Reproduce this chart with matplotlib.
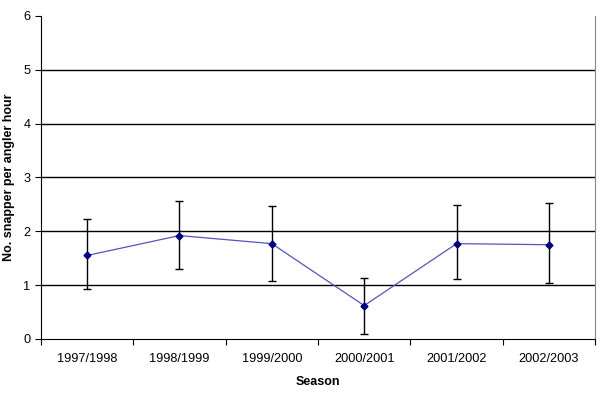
import matplotlib.pyplot as plt
import numpy as np

plt.rcParams['font.family'] = ['Liberation Sans', 'DejaVu Sans']

seasons = ["1997/1998", "1998/1999", "1999/2000", "2000/2001", "2001/2002", "2002/2003"]
catch_rate = [1.55, 1.92, 1.77, 0.62, 1.77, 1.75]
upper = [2.22, 2.57, 2.47, 1.13, 2.48, 2.52]
lower = [0.93, 1.30, 1.08, 0.10, 1.11, 1.04]

fig = plt.figure(figsize=(6, 3.96), dpi=100)
ax = fig.add_axes([0.068, 0.144, 0.924, 0.816])

x = np.arange(len(seasons)) + 0.5
rate = np.array(catch_rate)
yerr = [rate - np.array(lower), np.array(upper) - rate]

ax.errorbar(x, rate, yerr=yerr, fmt='none', ecolor='black', elinewidth=1,
            capsize=3, capthick=1, zorder=3)
ax.plot(x, rate, color='#5555bb', lw=0.9, marker='D', ms=3.5,
        mfc='#000080', mec='#000080', zorder=4)

# gridlines
for yv in range(1, 6):
    ax.axhline(yv, color='black', lw=1, zorder=1)

ax.set_xlim(0, len(seasons))
ax.set_ylim(0, 6)
ax.set_yticks(range(0, 7))
ax.set_xticks(range(0, len(seasons) + 1))
ax.set_xticklabels([])
ax.set_xticks(x, minor=True)
ax.set_xticklabels(seasons, minor=True)
ax.tick_params(axis='x', which='minor', length=0, pad=10, labelsize=9.2)
ax.tick_params(axis='x', which='major', length=4, direction='out')
ax.tick_params(axis='y', length=4, direction='out', labelsize=9.2)

ax.spines['top'].set_visible(False)
ax.spines['right'].set_color('#888888')
ax.spines['left'].set_color('black')
ax.spines['bottom'].set_color('black')

ax.set_xlabel("Season", fontweight='bold', fontsize=9, labelpad=8)
ax.set_ylabel("No. snapper per angler hour", fontweight='bold', fontsize=9, labelpad=6)

fig.savefig("out.png", dpi=100)
